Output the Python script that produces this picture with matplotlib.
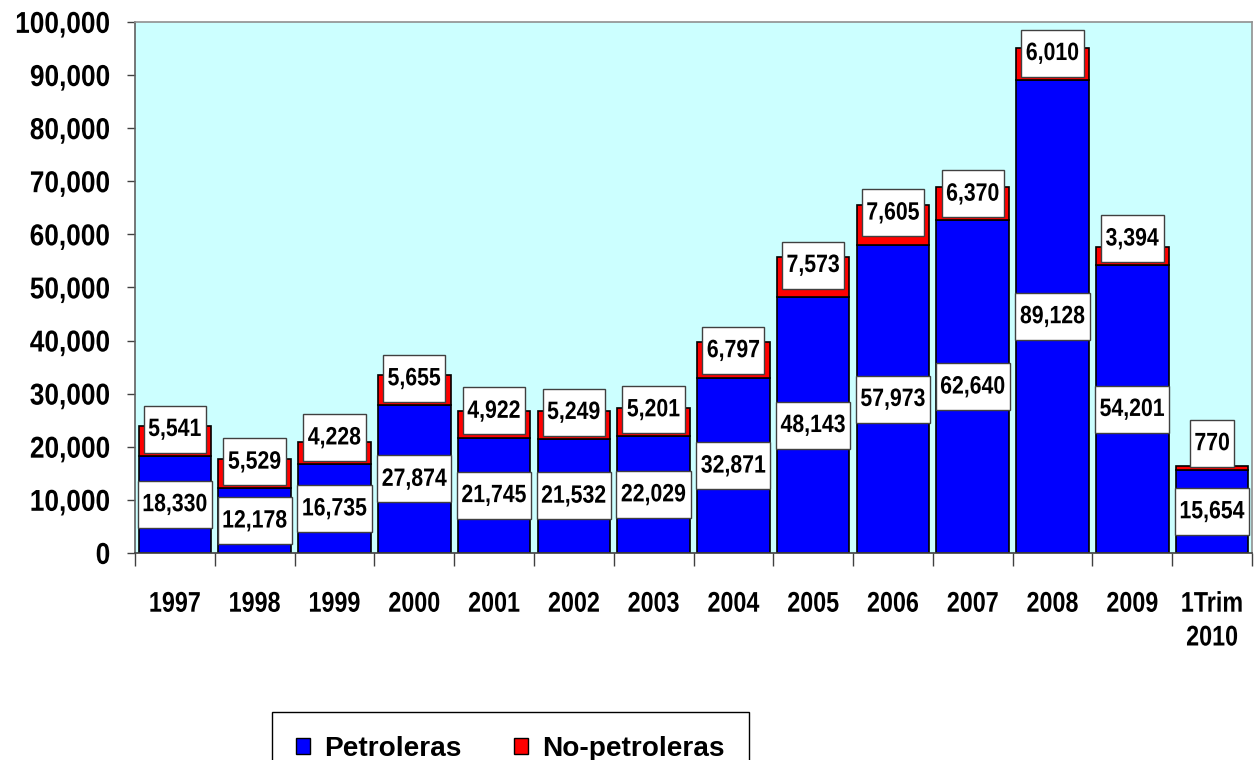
import numpy as np
import matplotlib
matplotlib.use("Agg")
import matplotlib.pyplot as plt
from matplotlib.path import Path
from matplotlib.transforms import Affine2D
from matplotlib.patheffects import AbstractPathEffect
from matplotlib.ticker import FuncFormatter, MultipleLocator
from matplotlib.patches import Patch

plt.rcParams['font.family'] = ['Liberation Sans', 'DejaVu Sans']
plt.rcParams['font.weight'] = 'bold'

# --- data ---
years = ["1997", "1998", "1999", "2000", "2001", "2002", "2003", "2004",
         "2005", "2006", "2007", "2008", "2009", "1Trim\n2010"]
petroleras = [18330, 12178, 16735, 27874, 21745, 21532, 22029, 32871,
              48143, 57973, 62640, 89128, 54201, 15654]
no_petroleras = [5541, 5529, 4228, 5655, 4922, 5249, 5201, 6797,
                 7573, 7605, 6370, 6010, 3394, 770]


class VStretch(AbstractPathEffect):
    # the original text is taller than arial, stretch glyphs vertically
    def __init__(self, s):
        super().__init__()
        self.s = s

    def draw_path(self, renderer, gc, tpath, affine, rgbFace=None):
        c = 35.8  # half cap height in text-path units (100 per em)
        t = Affine2D().translate(0, -c).scale(1, self.s).translate(0, c) + affine
        renderer.draw_path(gc, tpath, t, rgbFace)


def label_box(x0, y0, width, height, mutation_size):
    # white label box like excel: narrow side padding, tall box
    px = 4.5
    half_h = 23.5
    yc = y0 + height / 2
    x1 = x0 - px
    x2 = x0 + width + px
    verts = [(x1, yc - half_h), (x2, yc - half_h), (x2, yc + half_h),
             (x1, yc + half_h), (x1, yc - half_h)]
    codes = [Path.MOVETO, Path.LINETO, Path.LINETO, Path.LINETO, Path.CLOSEPOLY]
    return Path(verts, codes)


fig = plt.figure(figsize=(12.56, 7.6), dpi=100)
ax = fig.add_axes([0.1075, 0.2724, 0.8893, 0.6987])
ax.set_facecolor("#CCFFFF")

x = np.arange(len(years))
pet = np.array(petroleras)
nop = np.array(no_petroleras)

ax.bar(x, pet, width=0.91, color="#0000FF", edgecolor="black", linewidth=1.2, zorder=2)
ax.bar(x, nop, width=0.91, bottom=pet, color="#FF0000", edgecolor="black", linewidth=1.2, zorder=2)

box = dict(boxstyle=label_box, fc="white", ec="#404040", lw=1)
for i in range(len(x)):
    ax.text(x[i], pet[i] / 2, f"{pet[i]:,}", ha="center", va="center",
            fontsize=15.3, fontweight="bold", bbox=box, zorder=4,
            path_effects=[VStretch(1.18)])
    ytop = max(pet[i] + nop[i] - 1500, pet[i] + 5000)
    ax.text(x[i], ytop, f"{nop[i]:,}", ha="center", va="center",
            fontsize=15.3, fontweight="bold", bbox=box, zorder=4,
            path_effects=[VStretch(1.18)])

ax.set_xlim(-0.5, len(years) - 0.5)
ax.set_ylim(0, 100000)
ax.yaxis.set_major_locator(MultipleLocator(10000))
ax.yaxis.set_major_formatter(FuncFormatter(lambda v, p: f"{int(v):,}"))

ax.set_xticks(x)
ax.set_xticklabels(years, fontsize=16.8, fontweight="bold", linespacing=1.6)
ax.set_xticks(np.arange(-0.5, len(years)), minor=True)
ax.tick_params(axis="x", which="major", length=0, pad=28)
ax.tick_params(axis="x", which="minor", length=9.4, width=1, color="#404040", direction="out")
ax.tick_params(axis="y", length=5.8, width=1, color="#404040", pad=12, labelsize=18.9)
for lab in ax.get_yticklabels():
    lab.set_fontweight("bold")
    lab.set_path_effects([VStretch(1.15)])
for lab in ax.get_xticklabels():
    lab.set_path_effects([VStretch(1.22)])

ax.spines["top"].set_color("#909090")
ax.spines["right"].set_color("#909090")
ax.spines["left"].set_color("#606060")
ax.spines["bottom"].set_color("#404040")
for s in ax.spines.values():
    s.set_linewidth(1.2)

handles = [Patch(facecolor="#0000FF", edgecolor="black", label="Petroleras"),
           Patch(facecolor="#FF0000", edgecolor="black", label="No-petroleras")]
leg = fig.legend(handles=handles, loc="upper left", bbox_to_anchor=(272 / 1256, 1 - 712 / 760),
                 ncol=2, prop={"weight": "bold", "size": 20.2},
                 frameon=True, fancybox=False, edgecolor="black", framealpha=1,
                 handlelength=0.52, handleheight=0.5, handletextpad=0.5,
                 columnspacing=1.85, borderpad=0.85, borderaxespad=0)
leg.get_frame().set_linewidth(1)

fig.savefig("out.png", dpi=100)
